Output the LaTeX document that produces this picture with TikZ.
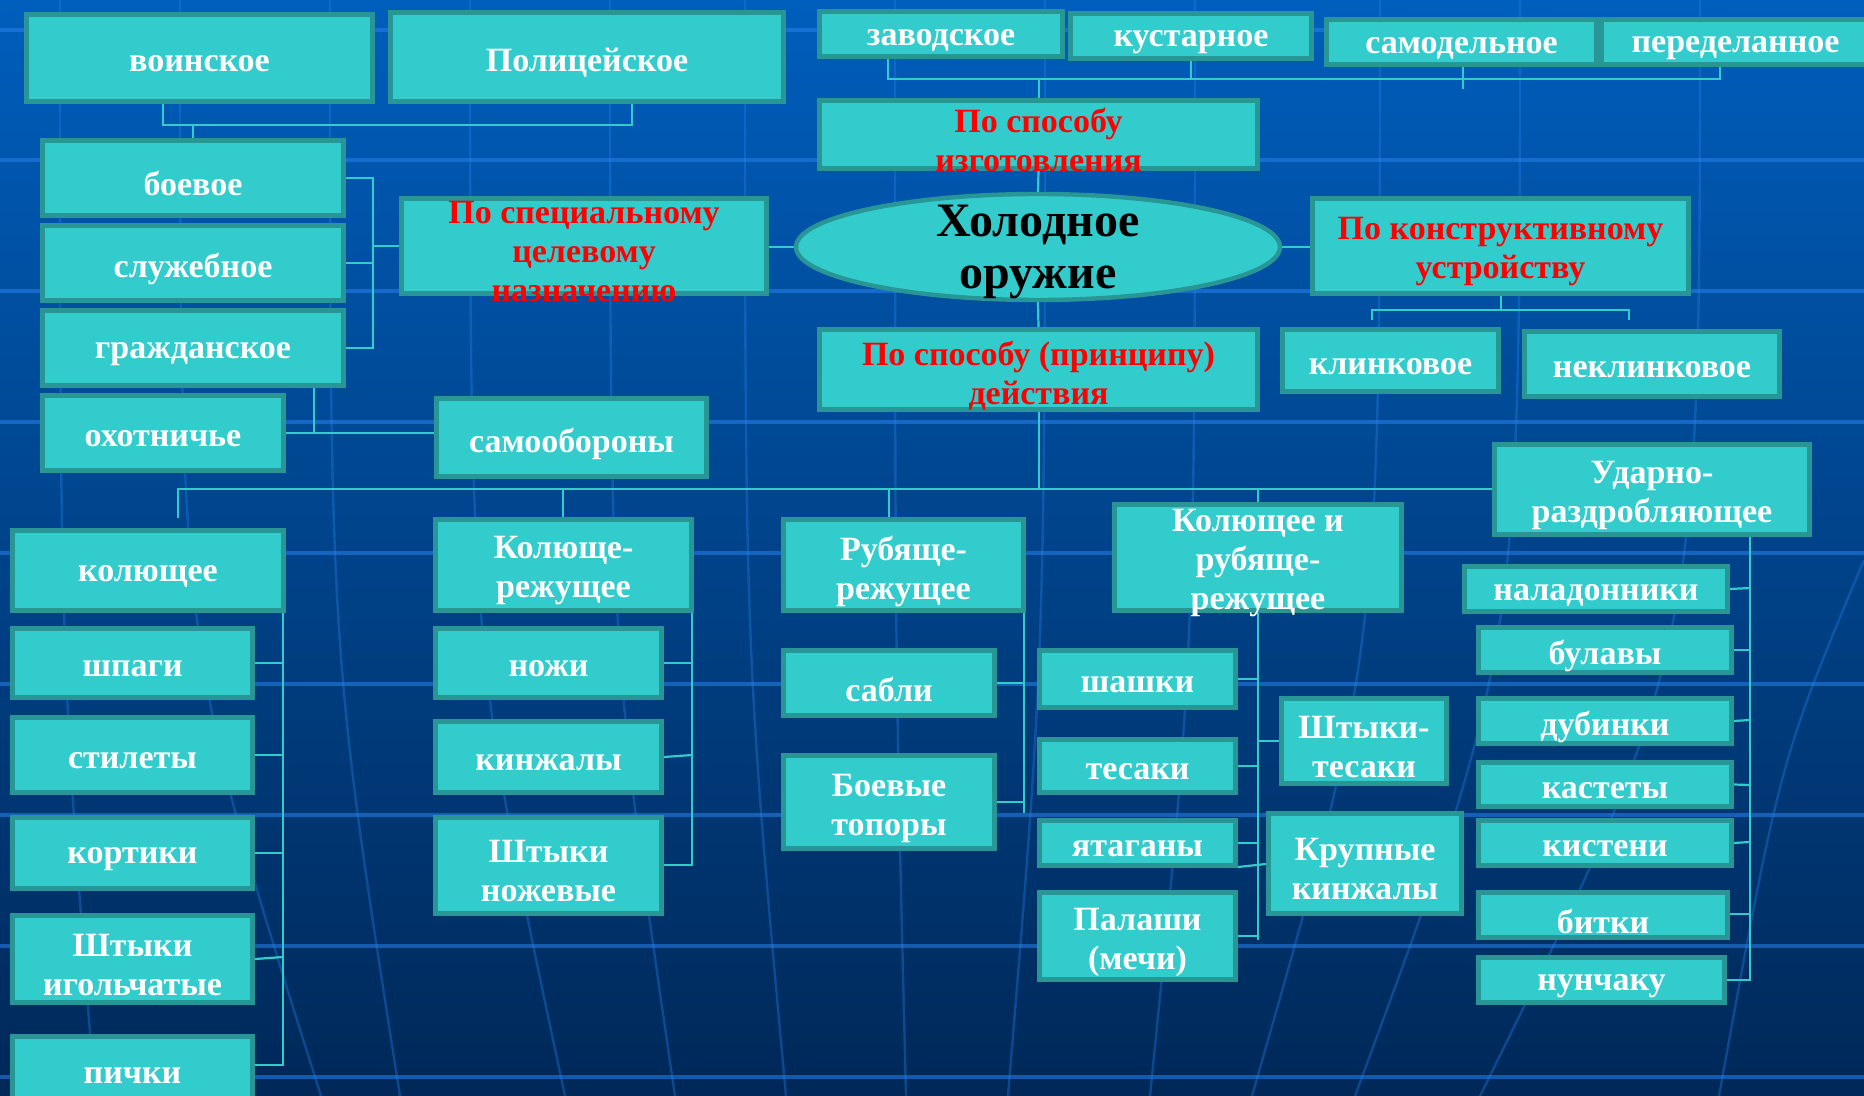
\documentclass[tikz,border=0pt]{standalone}
\usepackage{fontspec}
\setmainfont{Liberation Serif}
\usetikzlibrary{shapes.geometric}
\pgfdeclarelayer{bg}
\pgfdeclarelayer{cn}
\pgfsetlayers{bg,cn,main}
\definecolor{bgtop}{RGB}{0,94,188}
\definecolor{bgbot}{RGB}{0,40,88}
\definecolor{boxfill}{RGB}{51,204,204}
\definecolor{frame}{RGB}{40,150,148}
\definecolor{linec}{RGB}{51,204,204}
\definecolor{gridc}{RGB}{40,130,235}
\tikzset{
  box/.style={draw=frame, line width=2.5pt, fill=boxfill, inner sep=0pt},
  boxtext/.style={inner sep=0pt, text=white, align=center,
    font=\bfseries\fontsize{17}{19.5}\selectfont},
  hdr/.style={text=red},
  ell/.style={ellipse, draw=frame, line width=2.2pt, fill=boxfill, inner sep=0pt},
  elltext/.style={inner sep=0pt, text=black, align=center,
    font=\bfseries\fontsize{24}{26}\selectfont},
  conn/.style={draw=linec, line width=1.1pt},
  gridh/.style={draw=gridc, line width=1.6pt, opacity=0.55},
  gridv/.style={draw=gridc, line width=1.2pt, opacity=0.35}
}
\newcommand\bx[7][]{%
  \node[box,minimum width={(#4-#2-5)*0.5pt},minimum height={(#5-#3-5)*0.5pt}] (#6) at ({(#2+#4)/2},{(#3+#5)/2}) {};
  \node[boxtext,#1] (#6-t) at ([yshift=-3pt]#6.center) {#7};}
\begin{document}
\begin{tikzpicture}[x=0.5pt,y=-0.5pt]
\useasboundingbox (0,0) rectangle (1864,1096);
\begin{pgfonlayer}{bg}
\shade[top color=bgtop, bottom color=bgbot] (0,0) rectangle (1864,1096);
% background grid
\foreach \yy in {30,160,291,422,553,684,815,946,1077}
  \draw[gridh] (0,\yy) -- (1864,\yy);
\foreach \a/\b in {60/95,180/321,330/400,470/565,610/675,745/786,895/906}
  \draw[gridv] (\a,0) .. controls (\a,650) .. (\b,1096);
\foreach \a/\b in {1045/1008,1195/1150,1380/1252,1520/1355,1700/1480}
  \draw[gridv] (\a,0) .. controls (\a,650) .. (\b,1096);
\draw[gridv] (1864,560) .. controls (1780,760) .. (1719,1096);
\end{pgfonlayer}

% top row
\bx{24}{12}{375}{104}{voin}{воинское}
\bx{388}{10}{786}{104}{pol}{Полицейское}
\bx{817}{9}{1065}{59}{zav}{заводское}
\bx{1068}{11}{1314}{61}{kust}{кустарное}
\bx{1324}{17}{1599}{67}{samd}{самодельное}
\bx{1599}{17}{1872}{67}{pered}{переделанное}
\bx[hdr]{817}{98}{1260}{171}{izg}{По способу\\изготовления}
% centre
\node[ell, minimum width=242pt, minimum height=53pt] (main) at (1038,247) {};
\node[elltext] (main-t) at ([yshift=-2.6pt]main.center) {Холодное\\оружие};
\bx[hdr]{1310}{196}{1691}{296}{konstr}{По конструктивному\\устройству}
\bx{1280}{327}{1501}{394}{klin}{клинковое}
\bx{1522}{329}{1782}{399}{nekl}{неклинковое}
\bx[hdr]{817}{327}{1260}{412}{deistv}{По способу (принципу)\\действия}
% left group
\bx{40}{138}{346}{218}{boev}{боевое}
\bx{40}{223}{346}{303}{sluzh}{служебное}
\bx{40}{308}{346}{388}{grazh}{гражданское}
\bx{40}{393}{286}{473}{ohot}{охотничье}
\bx{434}{396}{709}{479}{samo}{самообороны}
\bx[hdr]{399}{196}{769}{296}{spec}{По специальному\\целевому\\назначению}
\bx{1492}{442}{1812}{537}{udar}{Ударно-\\раздробляющее}
% lower groups
\bx{10}{528}{286}{613}{kol}{колющее}
\bx{10}{626}{255}{700}{shpagi}{шпаги}
\bx{10}{715}{255}{795}{stil}{стилеты}
\bx{10}{815}{255}{891}{kort}{кортики}
\bx{10}{913}{255}{1005}{shig}{Штыки\\игольчатые}
\bx{10}{1034}{255}{1106}{pichki}{пички}
\bx{433}{517}{694}{613}{kolrez}{Колюще-\\режущее}
\bx{433}{626}{664}{700}{nozhi}{ножи}
\bx{433}{719}{664}{795}{kinzh}{кинжалы}
\bx{433}{815}{664}{916}{shnozh}{Штыки\\ножевые}
\bx{781}{517}{1026}{613}{rubrez}{Рубяще-\\режущее}
\bx{781}{648}{997}{718}{sabli}{сабли}
\bx{781}{753}{997}{851}{topory}{Боевые\\топоры}
\bx{1112}{502}{1404}{613}{kolrub}{Колющее и\\рубяще-\\режущее}
\bx{1037}{648}{1238}{710}{shashki}{шашки}
\bx{1037}{737}{1238}{795}{tesaki}{тесаки}
\bx{1037}{818}{1238}{868}{yatag}{ятаганы}
\bx{1037}{890}{1238}{982}{palashi}{Палаши\\(мечи)}
\bx{1279}{696}{1449}{786}{shtes}{Штыки-\\тесаки}
\bx{1266}{811}{1464}{916}{krup}{Крупные\\кинжалы}
\bx{1462}{564}{1730}{614}{nalad}{наладонники}
\bx{1476}{625}{1734}{675}{bulavy}{булавы}
\bx{1476}{696}{1734}{746}{dubinki}{дубинки}
\bx{1476}{760}{1734}{809}{kastety}{кастеты}
\bx{1476}{818}{1734}{868}{kisteni}{кистени}
\bx{1476}{890}{1730}{940}{bitki}{битки}
\bx{1476}{955}{1727}{1005}{nunch}{нунчаку}

% connectors (drawn beneath the boxes)
\begin{pgfonlayer}{cn}
\draw[conn] (voin.south -| 163,0) -- (163,125) -- (632,125) -- (pol.south -| 632,0);
\draw[conn] (193,125) -- (boev.north -| 193,0);
\draw[conn] (zav.south -| 888,0) -- (888,79) -- (1720,79) -- (pered.south -| 1720,0);
\draw[conn] (kust.south -| 1191,0) -- (1191,79);
\draw[conn] (samd.south -| 1463,0) -- (1463,89);
\draw[conn] (1039,79) -- (izg.north -| 1039,0);
\draw[conn] (izg.south) -- (main.north);
\draw[conn] (main.south) -- (deistv.north);
\draw[conn] (main.east) -- (konstr.west |- main.east);
\draw[conn] (spec.east |- main.west) -- (main.west);
\draw[conn] (konstr.south -| 1501,0) -- (1501,310);
\draw[conn] (1372,320) -- (1372,310) -- (1629,310) -- (1629,320);
\draw[conn] (boev.east) -- (373,178) -- (373,348) -- (grazh.east);
\draw[conn] (sluzh.east) -- (373,263);
\draw[conn] (373,246) -- (spec.west |- 0,246);
\draw[conn] (grazh.south -| 314,0) -- (314,433);
\draw[conn] (ohot.east) -- (samo.west |- ohot.east);
\draw[conn] (deistv.south -| 1039,0) -- (1039,489);
\draw[conn] (178,518) -- (178,489) -- (udar.west |- 0,489);
\draw[conn] (563,489) -- (kolrez.north -| 563,0);
\draw[conn] (889,489) -- (rubrez.north -| 889,0);
\draw[conn] (1258,489) -- (kolrub.north -| 1258,0);
\draw[conn] (kol.south -| 283,0) -- (283,1065) -- (pichki.east |- 0,1065);
\draw[conn] (shpagi.east) -- (283,663);
\draw[conn] (stil.east) -- (283,755);
\draw[conn] (kort.east) -- (283,853);
\draw[conn] (shig.east) -- (283,957);
\draw[conn] (kolrez.south -| 692,0) -- (692,865) -- (shnozh.east |- 0,865);
\draw[conn] (nozhi.east) -- (692,663);
\draw[conn] (kinzh.east) -- (692,755);
\draw[conn] (rubrez.south -| 1024,0) -- (1024,813);
\draw[conn] (sabli.east) -- (1024,683);
\draw[conn] (topory.east |- 0,802) -- (1024,802);
\draw[conn] (kolrub.south) -- (1258,940);
\draw[conn] (shashki.east) -- (1258,679);
\draw[conn] (tesaki.east) -- (1258,766);
\draw[conn] (yatag.east) -- (1258,843);
\draw[conn] (palashi.east) -- (1258,936);
\draw[conn] (shtes.west) -- (1258,741);
\draw[conn] (yatag.east |- 0,867) -- (krup.west |- 0,864);
\draw[conn] (udar.south -| 1750,0) -- (1750,980) -- (nunch.east |- 0,980);
\draw[conn] (nalad.east) -- (1750,588);
\draw[conn] (bulavy.east) -- (1750,650);
\draw[conn] (dubinki.east) -- (1750,720);
\draw[conn] (kastety.east) -- (1750,785);
\draw[conn] (kisteni.east) -- (1750,842);
\draw[conn] (bitki.east |- 0,914) -- (1750,914);
\end{pgfonlayer}
\end{tikzpicture}
\end{document}
